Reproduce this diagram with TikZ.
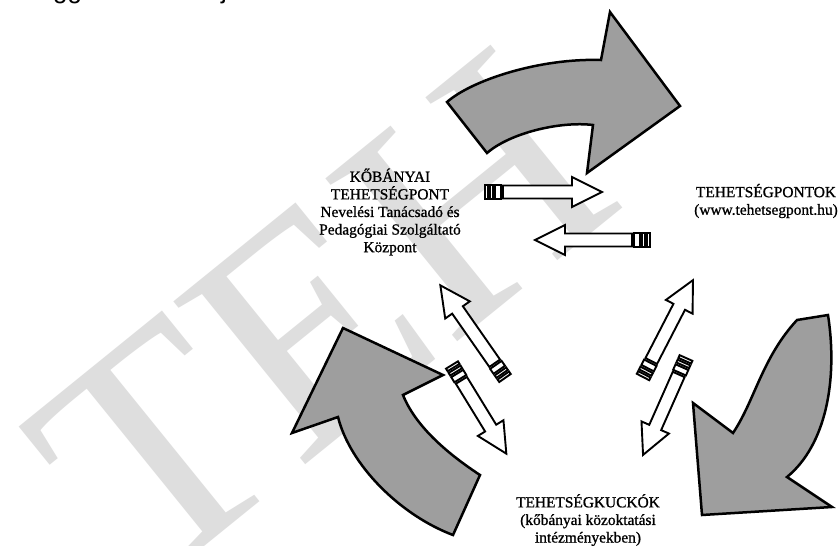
\documentclass[tikz,border=0pt]{standalone}
\usepackage{fontspec}
\setmainfont{Liberation Serif}
\newfontfamily\lblfont{Liberation Serif}[FakeBold=1]
\newfontfamily\sansf{Liberation Sans}
\tikzset{
  bigarrow/.style={draw=black, line width=2.5pt, fill=black!38, line join=miter},
  smallarrow/.style={draw=black, line width=1.9pt, fill=white, line join=miter},
  lbl/.style={align=center, font=\lblfont\fontsize{15.4}{17.6}\selectfont, inner sep=0pt},
  wmark/.style={text=black!13, font=\fontsize{320}{320}\selectfont, inner sep=0pt, anchor=base west},
  cuttext/.style={font=\sansf\fontsize{26}{26}\selectfont, inner sep=0pt, anchor=base west},
}
\newcommand\blkarrow[4]{%
  \begin{scope}[shift={(#1,#2)}, rotate=#3]
    \draw[smallarrow] (0,-7) rectangle (3,7);
    \draw[smallarrow] (5,-7) rectangle (8,7);
    \draw[smallarrow] (10,-7) rectangle (16,7);
    \draw[smallarrow] (18,-6.5) -- ({#4-30},-6.5) -- ({#4-30},-15) -- (#4,0)
      -- ({#4-30},15) -- ({#4-30},6.5) -- (18,6.5) -- cycle;
  \end{scope}}
\begin{document}
\begin{tikzpicture}[x=1pt, y=-1pt]
  \useasboundingbox (0,0) rectangle (839,546);
  \clip (0,0) rectangle (839,546);
  \fill[white] (0,0) rectangle (839,546);
  % watermark (only its first letters are visible in the scan)
  \node[wmark, rotate=39] (wm) at (146,594) {TEH};
  % cut-off line of text at the top
  \node[cuttext] (g1) at (53,-1.5) {gg};
  \node[cuttext] (g2) at (221,-1.5) {j};
  % big curved arrows
  \draw[bigarrow] (447,102) .. controls (472,80) and (540,58) .. (601,60)
    -- (610,12) -- (680,106) -- (587,173) -- (593,125)
    .. controls (560,121) and (510,133) .. (487,153) -- cycle;
  \draw[bigarrow] (797,320) -- (828,315) .. controls (838,380) and (826,445) .. (787,477)
    -- (832,507) -- (702,515) -- (693,403) -- (733,433)
    .. controls (755,400) and (762,358) .. (797,320) -- cycle;
  \draw[bigarrow] (453,535) -- (480,475) .. controls (445,452) and (415,425) .. (403,395)
    -- (443,375) -- (343,328) -- (292,433) -- (338,417)
    .. controls (350,465) and (400,515) .. (453,535) -- cycle;
  % small block arrows
  \blkarrow{485}{192}{0}{117}
  \blkarrow{650}{240}{180}{115}
  \blkarrow{505}{378}{124.9}{113}
  \blkarrow{452}{365}{-58.5}{104}
  \blkarrow{643}{377}{62.7}{109}
  \blkarrow{686}{358}{-113.9}{106}
  % labels
  \node[lbl] (kob) at (390,212) {KŐBÁNYAI\\TEHETSÉGPONT\\Nevelési Tanácsadó és\\Pedagógiai Szolgáltató\\Központ};
  \node[lbl] (tp) at (766,201) {TEHETSÉGPONTOK\\(www.tehetsegpont.hu)};
  \node[lbl] (tk) at (588,520) {TEHETSÉGKUCKÓK\\(kőbányai közoktatási\\intézményekben)};
\end{tikzpicture}
\end{document}
